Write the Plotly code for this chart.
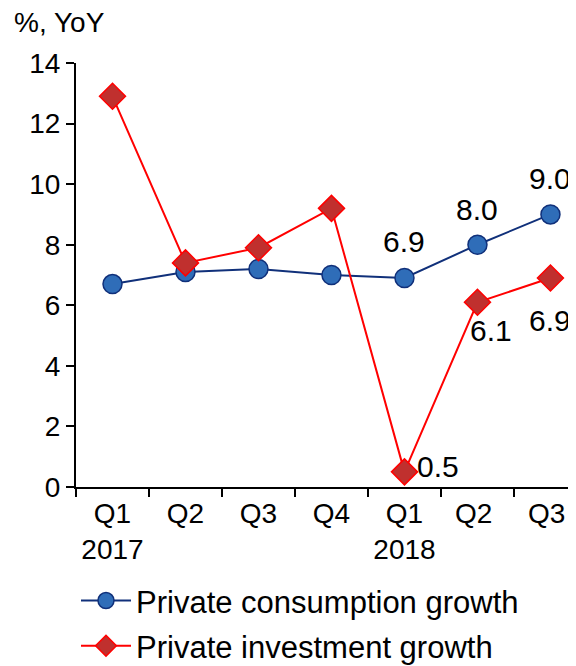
import plotly.graph_objects as go

quarters = ["Q1<br>2017", "Q2", "Q3", "Q4", "Q1<br>2018", "Q2 ", "Q3 "]
consumption = [6.7, 7.1, 7.2, 7.0, 6.9, 8.0, 9.0]
investment = [12.9, 7.4, 7.9, 9.2, 0.5, 6.1, 6.9]
labeled_idx = [4, 5, 6]

FONT = "Liberation Sans, Arial, sans-serif"

fig = go.Figure()
fig.add_trace(go.Scatter(
    x=quarters, y=consumption, mode="lines+markers",
    name="Private consumption growth", legendgroup="c",
    line=dict(color="#10307A", width=2),
    marker=dict(symbol="circle", size=19, color="#2F6DB8",
                line=dict(color="#10307A", width=1.5)),
    cliponaxis=False,
))
fig.add_trace(go.Scatter(
    x=quarters, y=investment, mode="lines+markers",
    name="Private investment growth", legendgroup="i",
    line=dict(color="#FF0000", width=2),
    marker=dict(symbol="diamond", size=20, color="#C0302E",
                line=dict(color="#FF0000", width=1.5)),
    cliponaxis=False,
))

# data labels (values from arrays, placement offsets in pixels)
cons_shift = [(0, 37), (0, 35), (0, 36)]
inv_shift = [(34, 5), (14, -28), (0, -42)]
for k, i in enumerate(labeled_idx):
    fig.add_annotation(x=quarters[i], y=consumption[i], text=f"{consumption[i]:.1f}",
                       showarrow=False, xshift=cons_shift[k][0], yshift=cons_shift[k][1],
                       font=dict(size=30, color="black"))
    fig.add_annotation(x=quarters[i], y=investment[i], text=f"{investment[i]:.1f}",
                       showarrow=False, xshift=inv_shift[k][0], yshift=inv_shift[k][1],
                       font=dict(size=30, color="black"))

fig.add_annotation(text="%, YoY", xref="paper", yref="paper",
                   x=-0.128, y=1.055, xanchor="left", yanchor="bottom",
                   showarrow=False, font=dict(size=28))

fig.update_layout(
    width=568, height=658,
    margin=dict(l=68, r=0, t=55, b=179, autoexpand=False),
    plot_bgcolor="white", paper_bgcolor="white",
    font=dict(family=FONT, size=28, color="black"),
    showlegend=True,
    legend=dict(x=0.0, y=0.140, xanchor="left", yanchor="top", yref="container",
                font=dict(size=31), tracegroupgap=2, itemwidth=50,
                bgcolor="rgba(0,0,0,0)"),
)

fig.update_xaxes(
    type="category", range=[-0.5, 6.35], tickson="boundaries",
    ticks="outside", ticklen=8, tickwidth=2, tickcolor="black",
    showline=True, linecolor="black", linewidth=2,
    showgrid=False, zeroline=False, tickfont=dict(size=28),
)
fig.update_yaxes(
    range=[0, 14], dtick=2, ticks="outside", ticklen=8, tickwidth=2,
    tickcolor="black", showline=True, linecolor="black", linewidth=2,
    showgrid=False, zeroline=False, tickfont=dict(size=28),
)

fig.write_html("out.html")
